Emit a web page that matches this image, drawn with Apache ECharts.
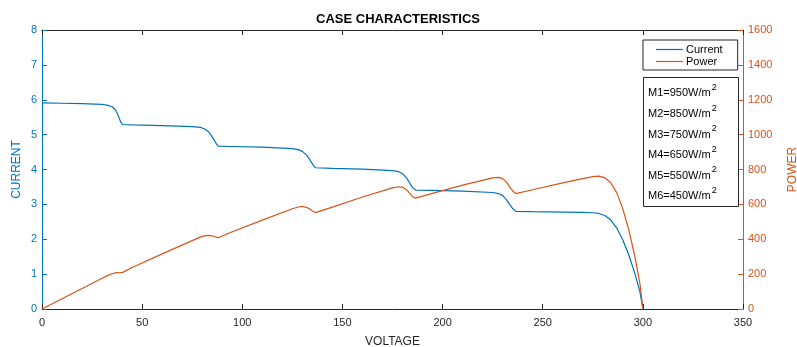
<!DOCTYPE html>
<html>
<head>
<meta charset="utf-8">
<script src="https://cdn.jsdelivr.net/npm/echarts@6/dist/echarts.min.js"></script>
<style>html,body{margin:0;padding:0;background:#fff}#c{width:797px;height:347px}</style>
</head>
<body>
<div id="c"></div>
<script>
const titleText = 'CASE CHARACTERISTICS';
const xName = 'VOLTAGE';
const leftName = 'CURRENT';
const rightName = 'POWER';
const seriesNames = ['Current', 'Power'];
const irradianceLabels = ['M1=950W/m', 'M2=850W/m', 'M3=750W/m', 'M4=650W/m', 'M5=550W/m', 'M6=450W/m'];

const voltage = [0, 10, 20, 30, 33, 35, 36.5, 37.5, 38.5, 39.3, 40.3,
  45, 60, 75, 79, 81, 83, 84.5, 86, 87, 88,
  95, 110, 125, 128, 130, 132, 133.5, 135, 136.5,
  145, 160, 175, 178, 180, 182, 183.5, 185, 186.5,
  195, 210, 225, 228, 230, 232, 233.5, 235, 236.5,
  245, 260, 270, 275, 278, 281, 284, 287, 290, 293, 296, 298.5, 300];
const current = [5.91, 5.90, 5.89, 5.87, 5.84, 5.80, 5.72, 5.62, 5.48, 5.36, 5.29,
  5.28, 5.26, 5.23, 5.21, 5.17, 5.09, 4.98, 4.84, 4.74, 4.67,
  4.66, 4.64, 4.60, 4.57, 4.52, 4.42, 4.30, 4.16, 4.05,
  4.03, 4.01, 3.97, 3.94, 3.88, 3.76, 3.62, 3.48, 3.41,
  3.40, 3.38, 3.34, 3.31, 3.25, 3.13, 3.00, 2.88, 2.80,
  2.79, 2.78, 2.77, 2.76, 2.74, 2.68, 2.55, 2.32, 1.98, 1.55, 1.02, 0.50, 0.02];
const power = [0, 59, 118, 176, 193, 202, 207, 209, 208, 206, 210,
  238, 316, 392, 412, 419, 422, 421, 416, 412, 409,
  443, 510, 575, 585, 588, 583, 575, 562, 553,
  584, 642, 695, 701, 698, 684, 664, 644, 636,
  663, 710, 752, 755, 748, 726, 700, 677, 662,
  684, 723, 748, 759, 762, 753, 724, 666, 574, 454, 302, 149, 5];

const xTicks = {min: 0, max: 350, interval: 50};
const leftTicks = {min: 0, max: 8, interval: 1};
const rightTicks = {min: 0, max: 1600, interval: 200};

const blue = '#0072BD';
const orange = '#D95319';
const dark = '#262626';
const font = 'Liberation Sans, Arial, sans-serif';

const chart = echarts.init(document.getElementById('c'), null, {renderer: 'canvas'});
const boxTop = 77;
const lineH = 20.6;
const graphics = [{
  type: 'rect', left: 643, top: boxTop, z: 10,
  shape: {width: 95, height: 129},
  style: {fill: '#fff', stroke: dark, lineWidth: 1}
}];
graphics.push({
  type: 'text', left: 648, top: boxTop + 6, z: 11,
  style: {
    text: irradianceLabels.map(s => s + '{sup|2}').join('\n'),
    fontFamily: font, fontSize: 11, fill: '#000', lineHeight: lineH,
    rich: {sup: {fontSize: 9, fontFamily: font, fill: '#000', verticalAlign: 'top', padding: [0, 0, 7, 1]}}
  }
});

const tick = c => ({show: true, inside: true, length: 5, lineStyle: {color: c}});
const line = c => ({show: true, onZero: false, lineStyle: {color: c, width: 1}});

chart.setOption({
  animation: false,
  backgroundColor: '#fff',
  title: {
    text: titleText, left: 393, top: 8, textAlign: 'center',
    textStyle: {fontFamily: font, fontSize: 13, fontWeight: 'bold', color: '#000'}
  },
  grid: {left: 42, right: 54, top: 30, bottom: 38, containLabel: false, outerBoundsMode: 'none'},
  legend: {
    orient: 'vertical', left: 643, top: 40,
    padding: [4, 15, 3, 13], itemGap: 1,
    itemWidth: 27, itemHeight: 1.2, icon: 'rect',
    borderColor: dark, borderWidth: 1, backgroundColor: '#fff',
    textStyle: {fontFamily: font, fontSize: 11, color: '#000', padding: [0, 0, 0, -2]},
    data: seriesNames
  },
  xAxis: [{
    type: 'value', position: 'bottom', ...xTicks,
    name: xName, nameLocation: 'middle', nameGap: 27,
    nameTextStyle: {fontFamily: font, fontSize: 12, color: dark},
    axisLine: line(dark),
    axisTick: tick(dark),
    axisLabel: {fontFamily: font, fontSize: 11, color: dark, margin: 8},
    splitLine: {show: false}
  }, {
    type: 'value', position: 'top', ...xTicks,
    axisLine: line(dark),
    axisTick: tick(dark),
    axisLabel: {show: false},
    splitLine: {show: false}
  }],
  yAxis: [{
    type: 'value', position: 'left', ...leftTicks,
    name: leftName, nameLocation: 'middle', nameGap: 19, nameMoveOverlap: false,
    nameTextStyle: {fontFamily: font, fontSize: 12, color: blue},
    axisLine: line(blue),
    axisTick: tick(blue),
    axisLabel: {fontFamily: font, fontSize: 11, color: blue, margin: 5},
    splitLine: {show: false}
  }, {
    type: 'value', position: 'right', ...rightTicks,
    name: rightName, nameLocation: 'middle', nameGap: 44,
    nameTextStyle: {fontFamily: font, fontSize: 12, color: orange},
    axisLine: line(orange),
    axisTick: tick(orange),
    axisLabel: {fontFamily: font, fontSize: 11, color: orange, margin: 5, formatter: v => String(v)},
    splitLine: {show: false}
  }],
  series: [{
    name: seriesNames[0], type: 'line', xAxisIndex: 0, yAxisIndex: 0,
    data: voltage.map((v, i) => [v, current[i]]),
    showSymbol: false, symbol: 'none', smooth: false,
    lineStyle: {color: blue, width: 1.2}, itemStyle: {color: blue}
  }, {
    name: seriesNames[1], type: 'line', xAxisIndex: 0, yAxisIndex: 1,
    data: voltage.map((v, i) => [v, power[i]]),
    showSymbol: false, symbol: 'none', smooth: false,
    lineStyle: {color: orange, width: 1.2}, itemStyle: {color: orange}
  }],
  graphic: graphics
});
</script>
</body>
</html>
